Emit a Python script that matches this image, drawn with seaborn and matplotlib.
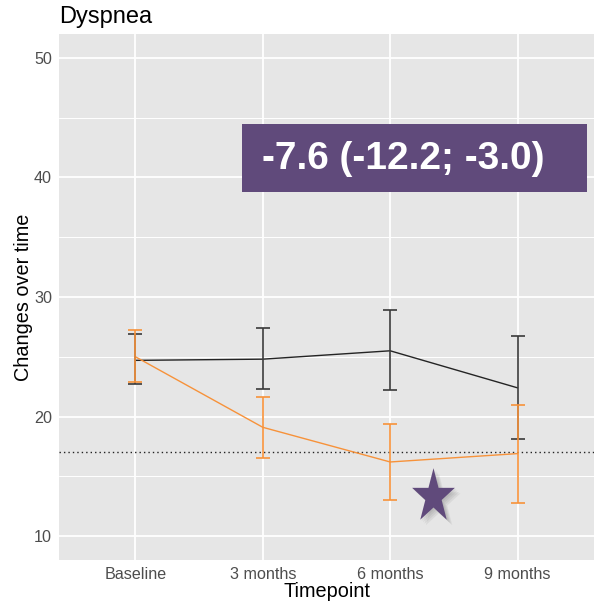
import numpy as np
import pandas as pd
import matplotlib
matplotlib.use("Agg")
import matplotlib.pyplot as plt
import matplotlib.patheffects as pe
from matplotlib.patches import Rectangle
from matplotlib.path import Path
from matplotlib.ticker import MultipleLocator
import seaborn as sns

# --- data -------------------------------------------------------------
timepoints = ["Baseline", "3 months", "6 months", "9 months"]
groups = ["Control", "Intervention"]

control_mean = [24.7, 24.8, 25.5, 22.4]
control_lo = [22.7, 22.3, 22.2, 18.1]
control_hi = [26.9, 27.4, 28.9, 26.7]

interv_mean = [25.0, 19.1, 16.2, 16.9]
interv_lo = [22.9, 16.5, 13.0, 12.8]
interv_hi = [27.2, 21.6, 19.4, 21.0]

reference_level = 17.0
effect_label = "-7.6 (-12.2; -3.0)"
star_point = (2.34, 13.3)

y_ticks = [10, 20, 30, 40, 50]

# --- styling ----------------------------------------------------------
sns.set_theme(style="darkgrid")
plt.rcParams["font.family"] = ["Liberation Sans", "DejaVu Sans"]

colors = {"Control": "#242424", "Intervention": "#F7923A"}
bar_colors = {"Control": "#3A3A3A", "Intervention": "#F7923A"}
purple = "#604A7B"

rows = []
for i, tp in enumerate(timepoints):
    rows.append(dict(group="Control", pos=i, tp=tp, mean=control_mean[i],
                     lo=control_lo[i], hi=control_hi[i]))
for i, tp in enumerate(timepoints):
    rows.append(dict(group="Intervention", pos=i, tp=tp, mean=interv_mean[i],
                     lo=interv_lo[i], hi=interv_hi[i]))
df = pd.DataFrame(rows)

fig = plt.figure(figsize=(5.94, 6.03), dpi=100)
ax = fig.add_axes([59 / 594, 43 / 603, 1 - 59 / 594, (560 - 34) / 603])
ax.set_facecolor("#E6E6E6")

# mean trajectories
sns.lineplot(data=df, x="pos", y="mean", hue="group", palette=colors,
             hue_order=groups, linewidth=1.0, legend=False, ax=ax,
             estimator=None, errorbar=None, zorder=3)

# confidence intervals
for g in groups:
    sub = df[df["group"] == g]
    ax.errorbar(sub["pos"], sub["mean"],
                yerr=[sub["mean"] - sub["lo"], sub["hi"] - sub["mean"]],
                fmt="none", ecolor=bar_colors[g], elinewidth=1.2,
                capsize=5, capthick=1.2, zorder=4 if g == "Intervention" else 3)

# reference level
ax.axhline(reference_level, color="#222222", linestyle=(0, (1, 2.2)),
           linewidth=1.0, zorder=2)

# effect estimate box
ax.add_patch(Rectangle((0.835, 38.81), 3.546 - 0.835, 44.48 - 38.81,
                       facecolor=purple, edgecolor="none", zorder=5))
ax.text(0.99, 41.55, effect_label, color="white", fontsize=28,
        fontweight="bold", ha="left", va="center", zorder=6)

# significance star: five-pointed, slightly narrow, soft drop shadow
ang = np.pi / 2 + np.arange(10) * np.pi / 5
rad = np.where(np.arange(10) % 2 == 0, 1.0, 0.382)
verts = np.column_stack([0.79 * rad * np.cos(ang), rad * np.sin(ang)])
verts = np.vstack([verts, verts[:1]])
star = Path(verts, closed=True)
shadow = [pe.SimplePatchShadow(offset=(o, -o), alpha=0.07,
                               shadow_rgbFace="#333333")
          for o in (1.0, 2.0, 3.0, 4.0)]
ax.plot([star_point[0]], [star_point[1]], marker=star, markersize=41,
        color=purple, markeredgewidth=0, linestyle="none", zorder=6,
        path_effects=shadow + [pe.Normal()])

# axes
ax.set_xlim(-0.6, 3.6)
ax.set_ylim(8, 52)
ax.set_xticks(range(len(timepoints)))
ax.set_xticklabels(timepoints)
ax.set_yticks(y_ticks)
ax.yaxis.set_minor_locator(MultipleLocator(5))
ax.grid(which="major", color="white", linewidth=1.3)
ax.grid(which="minor", axis="y", color="white", linewidth=0.7)
for s in ax.spines.values():
    s.set_visible(False)
ax.tick_params(axis="both", which="major", length=3, width=0.8,
               color="#333333", labelsize=11.6, labelcolor="#4D4D4D", pad=2)
ax.tick_params(axis="both", which="minor", length=0)
ax.set_xlabel("Timepoint", fontsize=14.3, color="black", labelpad=0)
ax.set_ylabel("Changes over time", fontsize=14.3, color="black", labelpad=1)

fig.text(59 / 594, 1 - 23.5 / 603, "Dyspnea", fontsize=17, color="black",
         ha="left", va="baseline")

fig.savefig("out.png", dpi=100)
